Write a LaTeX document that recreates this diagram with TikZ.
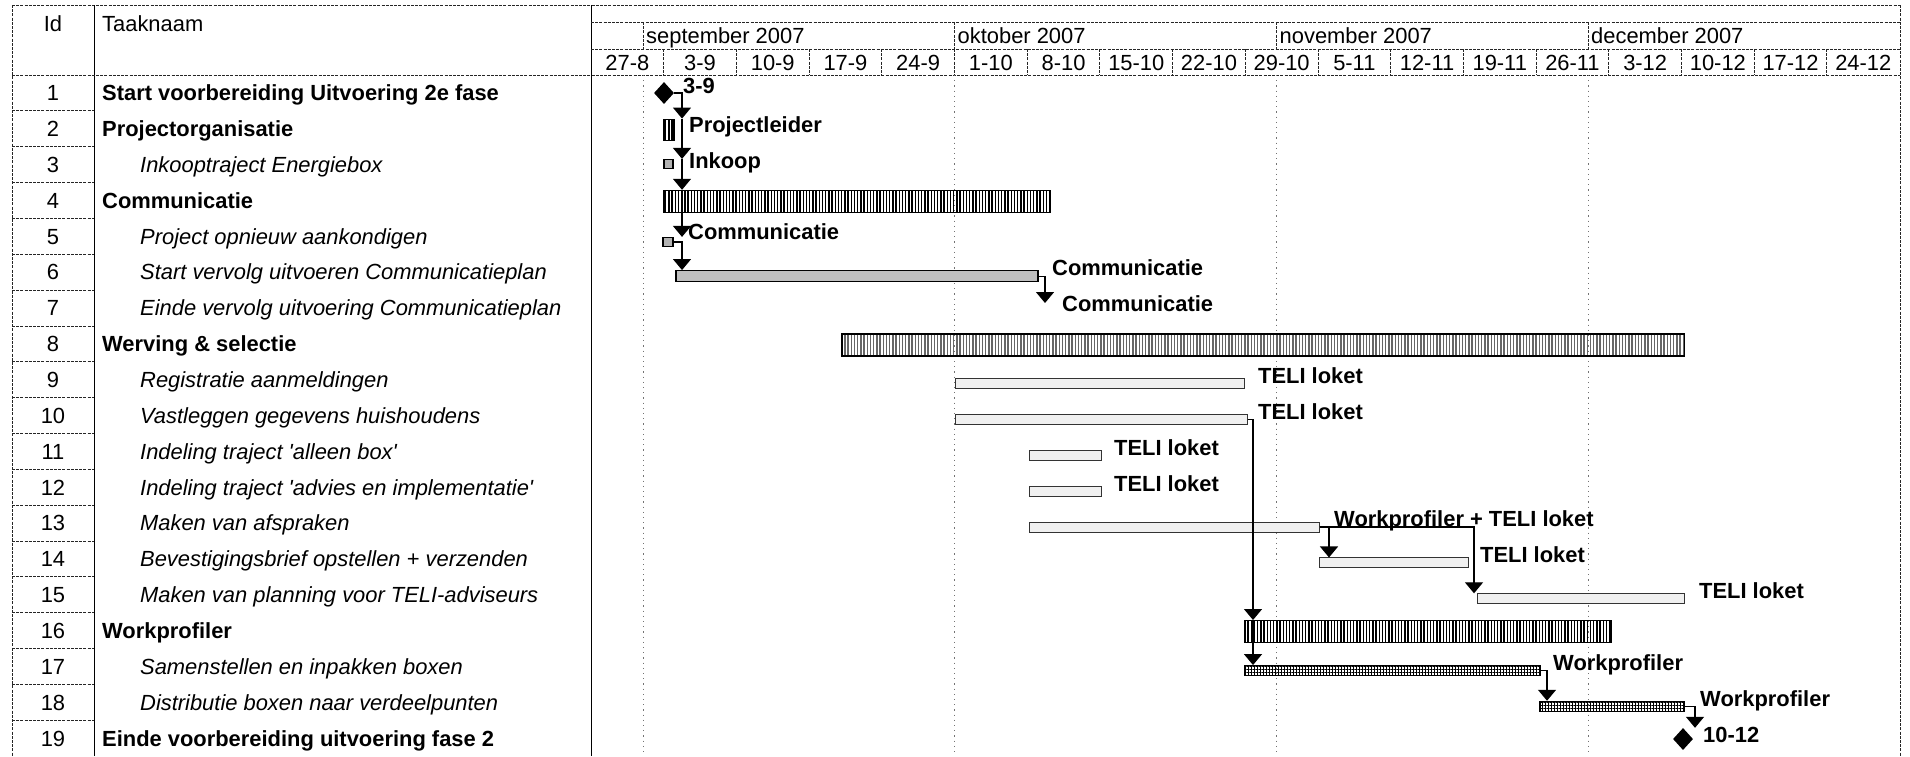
\documentclass[tikz,border=0pt]{standalone}
\usepackage{fontspec}
\setmainfont{Liberation Sans}[Ligatures=TeXOff]
\usetikzlibrary{arrows.meta,shapes.geometric,patterns.meta}
\newcommand\gfs{\fontsize{21.9pt}{24pt}\selectfont}
\begin{document}
\begin{tikzpicture}[x=1pt,y=-1pt,
  txt/.style={font=\gfs, inner sep=0pt, text height=15.6pt, text depth=0pt},
  ctr/.style={txt, anchor=center},
  lft/.style={txt, anchor=west},
  tb/.style={txt, anchor=west, font=\gfs\bfseries},
  ti/.style={txt, anchor=west, font=\gfs\itshape},
  lbl/.style={txt, anchor=west, font=\gfs\bfseries},
  tline/.style={line width=0.9pt, black!85, dash pattern=on 3pt off 1.2pt},
  vline/.style={line width=1pt, black},
  mgrid/.style={line width=0.9pt, black!55, dash pattern=on 1.2pt off 4pt},
  sbar/.style={rectangle, inner sep=0pt, minimum height=22pt, draw=black, line width=1.3pt,
     pattern={Lines[angle=90,distance=3.2pt,line width=1.4pt]}, pattern color=black},
  lbar/.style={sbar, pattern color=black!60},
  nbar/.style={rectangle, inner sep=0pt, minimum height=10pt, draw=black!80, line width=1pt, fill=black!6},
  dbar/.style={rectangle, inner sep=0pt, minimum height=11pt, draw=black, line width=1.2pt, fill=black!25},
  gbar/.style={rectangle, inner sep=0pt, minimum height=10pt, draw=black, line width=1.2pt,
     pattern={Hatch[angle=0,distance=3pt,line width=0.9pt]}, pattern color=black},
  tbar/.style={rectangle, inner sep=0pt, minimum height=9pt, minimum width=10pt, draw=black, line width=1.2pt, fill=black!30},
  ms/.style={diamond, fill=black, inner sep=0pt, minimum width=20pt, minimum height=22pt},
  link/.style={line width=1.3pt, -{Triangle[width=18pt,length=11pt]}}
]
\useasboundingbox (0,0) rectangle (1910,756);
\fill[white] (0,0) rectangle (1910,756);

% ---------- table frame ----------
\draw[tline] (12,5) -- (1900,5);
\draw[tline] (12,5) -- (12,756);
\draw[tline] (1900,5) -- (1900,756);
\draw[vline] (94,5) -- (94,756);
\draw[vline] (591,5) -- (591,756);
\draw[tline] (591,22) -- (1900,22);
\draw[tline] (591,49) -- (1900,49);
\draw[tline] (12,75) -- (1900,75);
\foreach \i in {1,...,18} \draw[tline] (12,{75+\i*35.85}) -- (94,{75+\i*35.85});

% month dividers and grid
\foreach \x in {643,954.5,1276.5,1588} {
  \draw[tline] (\x,22) -- (\x,49);
  \draw[mgrid] (\x,75) -- (\x,756);
}
% week dividers
\foreach \k in {1,...,17} \draw[tline] ({591+\k*72.7},49) -- ({591+\k*72.7},75);

% ---------- headers ----------
\node[ctr] (hid) at (53,24) {Id};
\node[lft] (htn) at (102,24) {Taaknaam};
\node[lft] (mon9) at (646,36) {september 2007};
\node[lft] (mon10) at (957.5,36) {oktober 2007};
\node[lft] (mon11) at (1279.5,36) {november 2007};
\node[lft] (mon12) at (1591,36) {december 2007};
\foreach \lab [count=\k from 0] in {27-8,3-9,10-9,17-9,24-9,1-10,8-10,15-10,22-10,29-10,5-11,12-11,19-11,26-11,3-12,10-12,17-12,24-12}
  \node[ctr] (w\k) at ({591+(\k+0.5)*72.7},62.5) {\lab};

% ---------- Id column ----------
\foreach \i in {1,...,19} \node[ctr] (id\i) at (53,{92.9+(\i-1)*35.85}) {\i};

% ---------- task names ----------
\node[tb] (n1) at (102,92.9) {Start voorbereiding Uitvoering 2e fase};
\node[tb] (n2) at (102,128.75) {Projectorganisatie};
\node[ti] (n3) at (140,164.6) {Inkooptraject Energiebox};
\node[tb] (n4) at (102,200.45) {Communicatie};
\node[ti] (n5) at (140,236.3) {Project opnieuw aankondigen};
\node[ti] (n6) at (140,272.15) {Start vervolg uitvoeren Communicatieplan};
\node[ti] (n7) at (140,308) {Einde vervolg uitvoering Communicatieplan};
\node[tb] (n8) at (102,343.85) {Werving \& selectie};
\node[ti] (n9) at (140,379.7) {Registratie aanmeldingen};
\node[ti] (n10) at (140,415.55) {Vastleggen gegevens huishoudens};
\node[ti] (n11) at (140,451.4) {Indeling traject 'alleen box'};
\node[ti] (n12) at (140,487.25) {Indeling traject 'advies en implementatie'};
\node[ti] (n13) at (140,523.1) {Maken van afspraken};
\node[ti] (n14) at (140,558.95) {Bevestigingsbrief opstellen + verzenden};
\node[ti] (n15) at (140,594.8) {Maken van planning voor TELI-adviseurs};
\node[tb] (n16) at (102,630.65) {Workprofiler};
\node[ti] (n17) at (140,666.5) {Samenstellen en inpakken boxen};
\node[ti] (n18) at (140,702.35) {Distributie boxen naar verdeelpunten};
\node[tb] (n19) at (102,738.2) {Einde voorbereiding uitvoering fase 2};

% ---------- bars ----------
\node[ms] (m1) at (664,93) {};
\node[sbar, minimum width=10pt, minimum height=21pt] (b2) at (669,129.75) {};
\node[tbar, minimum width=9pt] (b3) at (668.5,164) {};
\node[sbar, minimum width=386pt] (b4) at (857,201.45) {};
\node[tbar] (b5) at (668,242) {};
\node[dbar, minimum width=362pt] (b6) at (857,276.15) {};
\coordinate (e7) at (1045,303);
\node[lbar, minimum width=842.5pt] (b8) at (1263.25,344.85) {};
\node[nbar, minimum width=289pt] (b9) at (1099.5,383.7) {};
\node[nbar, minimum width=292pt] (b10) at (1101,419.55) {};
\node[nbar, minimum width=72pt] (b11) at (1065,455.4) {};
\node[nbar, minimum width=72pt] (b12) at (1065,491.25) {};
\node[nbar, minimum width=290pt] (b13) at (1174,527.1) {};
\node[nbar, minimum width=149pt] (b14) at (1393.5,562.95) {};
\node[nbar, minimum width=207.5pt] (b15) at (1580.75,598.8) {};
\node[sbar, minimum width=366pt] (b16) at (1428,631.65) {};
\node[gbar, minimum width=295pt] (b17) at (1392.5,670.5) {};
\node[gbar, minimum width=144.5pt] (b18) at (1612.25,706.35) {};
\node[ms] (m19) at (1683,739) {};

% ---------- bar labels ----------
\node[lbl] (l1) at (683,86) {3-9};
\node[lbl] (l2) at (689,124.5) {Projectleider};
\node[lbl] (l3) at (689,160.5) {Inkoop};
\node[lbl] (l5) at (688,232) {Communicatie};
\node[lbl] (l6) at (1052,268) {Communicatie};
\node[lbl] (l7) at (1062,304) {Communicatie};
\node[lbl] (l9) at (1258,375.7) {TELI loket};
\node[lbl] (l10) at (1258,411.5) {TELI loket};
\node[lbl] (l11) at (1114,447.4) {TELI loket};
\node[lbl] (l12) at (1114,483.2) {TELI loket};
\node[lbl] (l13) at (1334,519.1) {Workprofiler + TELI loket};
\node[lbl] (l14) at (1480,555) {TELI loket};
\node[lbl] (l15) at (1699,590.8) {TELI loket};
\node[lbl] (l17) at (1553,662.5) {Workprofiler};
\node[lbl] (l18) at (1700,698.3) {Workprofiler};
\node[lbl] (l19) at (1703,735) {10-12};

% ---------- links ----------
\coordinate (j1) at (682,0);
\coordinate (j10) at (1253,0);
\coordinate (j13a) at (1329,0);
\coordinate (j13b) at (1474,0);
\coordinate (j17) at (1547,0);
\coordinate (j18) at (1695,0);
\draw[link] (m1.east) -| (j1 |- b2.north);
\draw[link] (j1 |- b2.north) -- (j1 |- b3.north);
\draw[link] (j1 |- b3.north) -- (j1 |- b4.north);
\draw[link] (j1 |- b4.north) -- (j1 |- b5.north);
\draw[link] (b5.east) -| (j1 |- b6.north);
\draw[link] (b6.east) -| (e7);
\draw[link] (b10.east) -| (j10 |- b16.north);
\draw[link] (j10 |- b16.north) -- (j10 |- b17.north);
\draw[link] (b13.east) -| (j13a |- b14.north);
\draw[link] (b13.east) -| (j13b |- b15.north);
\draw[link] (b17.east) -| (j17 |- b18.north);
\draw[link] (b18.east) -| (j18 |- m19.north);
\end{tikzpicture}
\end{document}
